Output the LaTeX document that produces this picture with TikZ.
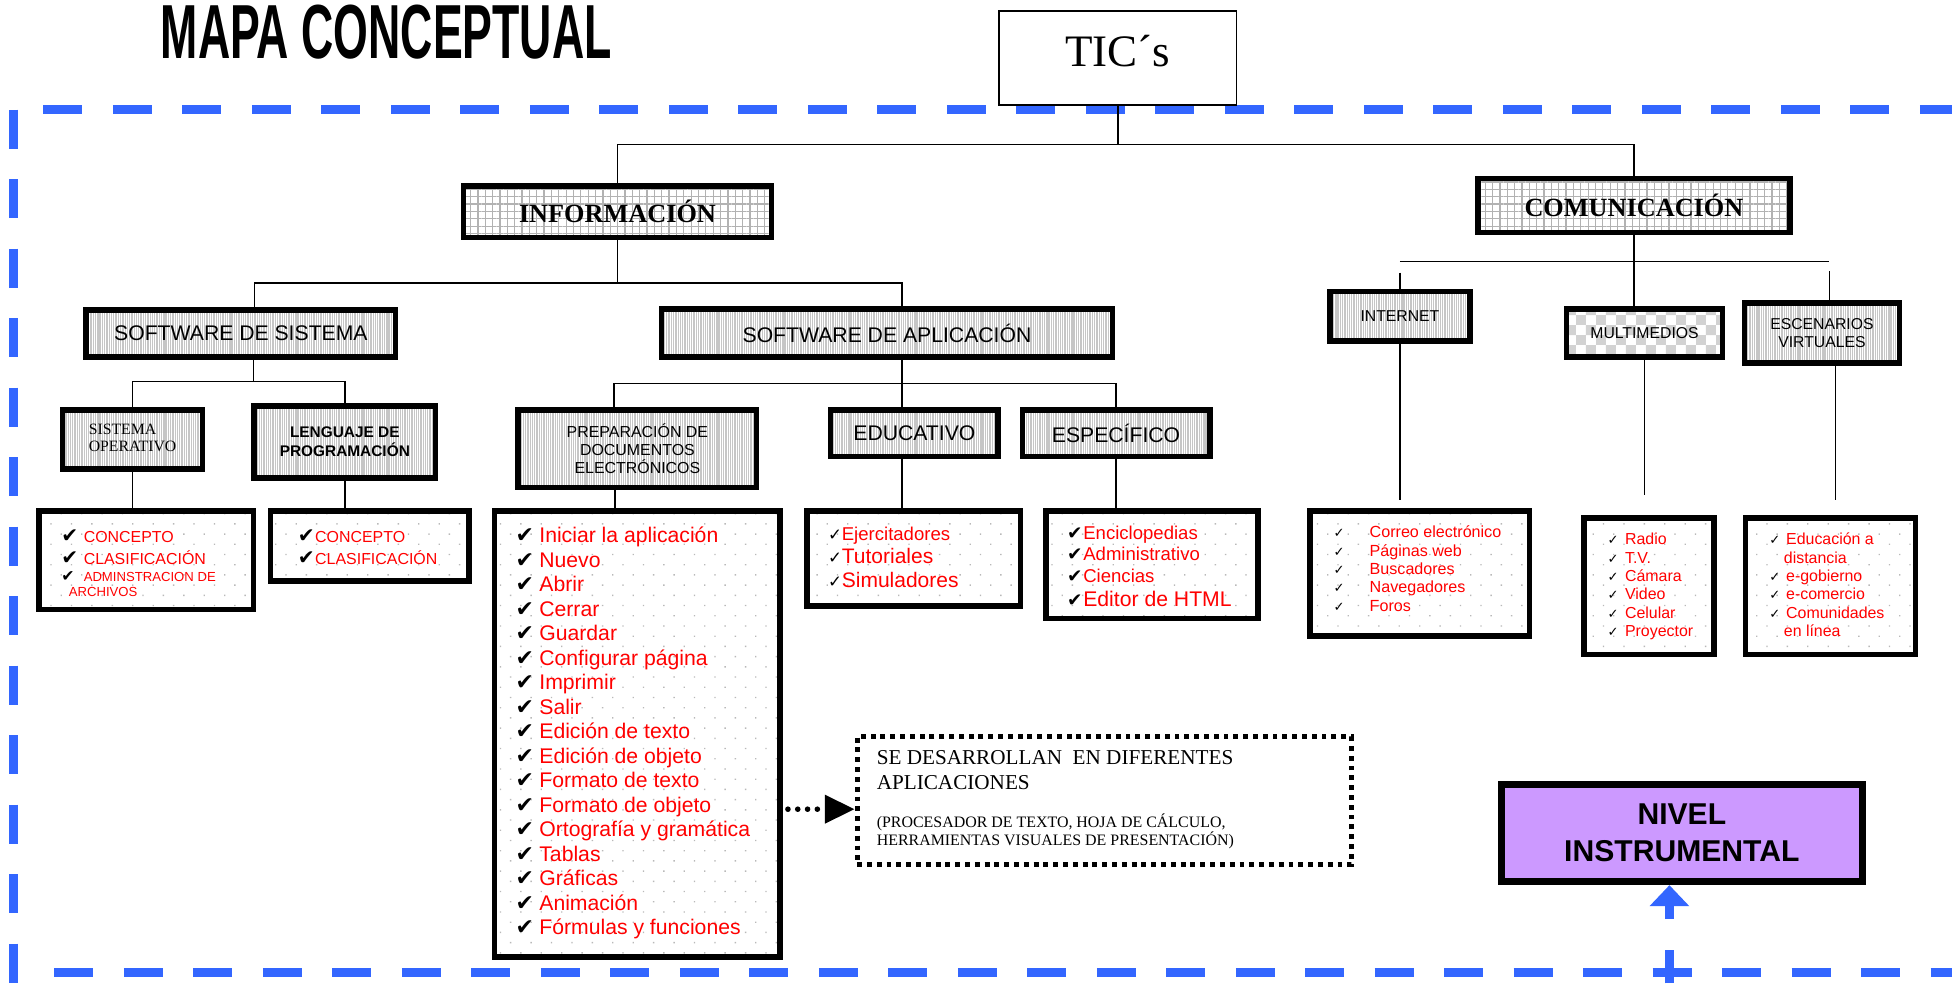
\documentclass[tikz,border=0pt]{standalone}
\usepackage{graphicx}
\usepackage{fontspec}
\setmainfont{Liberation Sans}
\newfontfamily\timesfont{Liberation Serif}
\newfontfamily\symfont{DejaVu Sans}
\usetikzlibrary{calc,patterns,patterns.meta,arrows.meta}

\definecolor{frameblue}{RGB}{51,102,255}
\definecolor{nivelfill}{RGB}{204,153,255}

\pgfdeclarepatternformonly{checkers}{\pgfqpoint{0pt}{0pt}}{\pgfqpoint{11.4pt}{11.4pt}}{\pgfqpoint{11.4pt}{11.4pt}}{%
  \pgfpathrectangle{\pgfqpoint{0pt}{0pt}}{\pgfqpoint{5.7pt}{5.7pt}}%
  \pgfpathrectangle{\pgfqpoint{5.7pt}{5.7pt}}{\pgfqpoint{5.7pt}{5.7pt}}%
  \pgfusepath{fill}}

\newcommand\fsz[2]{\fontsize{#1}{#2}\selectfont}
\newcommand\chkb[1]{{\fontsize{#1}{#1}\symfont ✔}}
\newcommand\chkl[1]{{\fontsize{#1}{#1}\symfont ✓}}
\newcommand\itm[3]{\makebox[#1][l]{#2}\textcolor{red}{#3}}

\tikzset{
  corners/.style n args={4}{at={({(#1+#3)/2},{(#2+#4)/2})},
    minimum width={(#3-#1-4.5)*0.025cm}, minimum height={(#4-#2-4.5)*0.025cm}},
  conn/.style={line width=0.9pt},
  thickbox/.style={draw, line width=3.2pt, inner sep=0pt},
  vlines/.style={thickbox, pattern={Lines[angle=90,distance=1.3pt,line width=0.75pt]}, pattern color=gray!45},
  gridfill/.style={thickbox, pattern={Hatch[angle=0,distance=4.2pt,line width=0.7pt]}, pattern color=gray!60},
  checkfill/.style={thickbox, pattern=checkers, pattern color=gray!35},
  dotfill/.style={thickbox, pattern={Dots[angle=45,distance=0.29cm,radius=0.55pt]}, pattern color=gray!55},
  itemlist/.style={anchor=base west, inner sep=0pt, align=left},
  dashframe/.style={draw=frameblue, line width=5.3pt, dash pattern=on 22.3pt off 17.4pt},
}

\begin{document}
\begin{tikzpicture}[x=0.025cm,y=-0.025cm]
\useasboundingbox (0,0) rectangle (1568,790);

%%%%% MARCO %%%%%
\draw[dashframe] (11,88) -- (11,790);
\draw[dashframe] (34.8,88) -- (1568,88);
\draw[dashframe] (43.6,781) -- (1568,781);

\node[anchor=base west, inner sep=0pt] (titulo) at (129,47) {\resizebox{9.05cm}{1.075cm}{\bfseries MAPA CONCEPTUAL}};

%%%%% CAJAS %%%%%
\node[draw, line width=0.9pt, fill=white, corners={800.4}{6.4}{995.6}{86.6}, inner sep=0pt, text depth=0.3cm, font=\timesfont\fsz{25.7pt}{26pt}] (tic) {TIC´s};

\node[gridfill, corners={370}{147}{622}{193}, font=\timesfont\bfseries\fsz{15pt}{17pt}] (info) {INFORMACIÓN};
\node[gridfill, corners={1185}{141}{1440}{189}, font=\timesfont\bfseries\fsz{15pt}{17pt}] (com) {COMUNICACIÓN};

\node[vlines, corners={67}{247}{320}{289}, font=\fsz{12.1pt}{14pt}] (sws) {SOFTWARE DE SISTEMA};
\node[vlines, corners={529}{246}{896}{289}, font=\fsz{12.1pt}{14pt}] (swa) {SOFTWARE DE APLICACIÓN};

\node[vlines, corners={48}{327}{165}{379}, font=\timesfont\fsz{9pt}{10pt}] (so) {\begin{tabular}{@{}l@{}}SISTEMA\\OPERATIVO\end{tabular}};
\node[vlines, corners={202}{324}{352}{386}, align=center, font=\bfseries\fsz{8.8pt}{10.7pt}] (lang) {LENGUAJE DE\\PROGRAMACIÓN};
\node[vlines, corners={414}{327}{610}{394}, align=center, font=\fsz{9.1pt}{10.3pt}] (prep) {PREPARACIÓN DE\\DOCUMENTOS\\ELECTRÓNICOS};
\node[vlines, corners={665}{327}{804}{369}, font=\fsz{12.1pt}{14pt}] (edu) {EDUCATIVO};
\node[vlines, corners={819}{327}{974}{369}, font=\fsz{12.1pt}{14pt}] (esp) {ESPECÍFICO};

\node[vlines, corners={1066}{232}{1183}{276}, font=\fsz{9pt}{10pt}] (int) {INTERNET};
\node[checkfill, corners={1256}{246}{1386}{289}, font=\fsz{9pt}{10pt}] (mm) {MULTIMEDIOS};
\node[vlines, corners={1399}{241}{1528}{294}, align=center, font=\fsz{9pt}{10pt}] (esc) {ESCENARIOS\\VIRTUALES};

%%%%% LISTAS %%%%%
\node[dotfill, corners={29}{408}{206}{492}] (lista) {};
\node[dotfill, corners={215}{408}{379}{469}] (listb) {};
\node[dotfill, corners={395}{408}{629}{771}] (preplist) {};
\node[dotfill, corners={646}{408}{822}{489}] (edulist) {};
\node[dotfill, corners={838}{408}{1013}{499}] (esplist) {};
\node[dotfill, corners={1050}{408}{1231}{513}] (intlist) {};
\node[dotfill, corners={1270}{414}{1379}{528}] (mmlist) {};
\node[dotfill, corners={1400}{414}{1541}{528}] (esclist) {};

\node[itemlist, font=\fsz{9.1pt}{12.8pt}] (listatxt) at (49,478.8) {%
  \itm{12.8pt}{\chkb{11.5pt}}{CONCEPTO}\\
  \itm{12.8pt}{\chkb{11.5pt}}{CLASIFICACIÓN}\\[-3.4pt]
  {\fsz{7.5pt}{12.8pt}\itm{12.8pt}{\chkb{9pt}}{ADMINSTRACION DE}}\\[-4.3pt]
  {\fsz{7.5pt}{12.8pt}\hspace*{4.3pt}\textcolor{red}{ARCHIVOS}}};
\node[itemlist, font=\fsz{9.1pt}{12.8pt}] (listbtxt) at (239,453.6) {%
  \itm{9.9pt}{\chkb{11.5pt}}{CONCEPTO}\\
  \itm{9.9pt}{\chkb{11.5pt}}{CLASIFICACIÓN}};

\node[itemlist, font=\fsz{12.1pt}{14pt}] (preptxt) at (414,751) {%
  \itm{13.5pt}{\chkb{12.5pt}}{Iniciar la aplicación}\\
  \itm{13.5pt}{\chkb{12.5pt}}{Nuevo}\\
  \itm{13.5pt}{\chkb{12.5pt}}{Abrir}\\
  \itm{13.5pt}{\chkb{12.5pt}}{Cerrar}\\
  \itm{13.5pt}{\chkb{12.5pt}}{Guardar}\\
  \itm{13.5pt}{\chkb{12.5pt}}{Configurar página}\\
  \itm{13.5pt}{\chkb{12.5pt}}{Imprimir}\\
  \itm{13.5pt}{\chkb{12.5pt}}{Salir}\\
  \itm{13.5pt}{\chkb{12.5pt}}{Edición de texto}\\
  \itm{13.5pt}{\chkb{12.5pt}}{Edición de objeto}\\
  \itm{13.5pt}{\chkb{12.5pt}}{Formato de texto}\\
  \itm{13.5pt}{\chkb{12.5pt}}{Formato de objeto}\\
  \itm{13.5pt}{\chkb{12.5pt}}{Ortografía y gramática}\\
  \itm{13.5pt}{\chkb{12.5pt}}{Tablas}\\
  \itm{13.5pt}{\chkb{12.5pt}}{Gráficas}\\
  \itm{13.5pt}{\chkb{12.5pt}}{Animación}\\
  \itm{13.5pt}{\chkb{12.5pt}}{Fórmulas y funciones}};

\node[itemlist, font=\fsz{12pt}{13.5pt}] (edutxt) at (665,472) {%
  {\fsz{10.6pt}{13.5pt}\itm{7.8pt}{\chkl{9.5pt}}{Ejercitadores}}\\
  \itm{7.8pt}{\chkl{9.5pt}}{Tutoriales}\\
  \itm{7.8pt}{\chkl{9.5pt}}{Simuladores}};

\node[itemlist, font=\fsz{10.6pt}{12.4pt}] (esptxt) at (857,487.4) {%
  \itm{9.2pt}{\chkb{10.5pt}}{Enciclopedias}\\
  \itm{9.2pt}{\chkb{10.5pt}}{Administrativo}\\
  \itm{9.2pt}{\chkb{10.5pt}}{Ciencias}\\[1.5pt]
  {\fsz{12.1pt}{12.4pt}\itm{9.2pt}{\chkb{10.5pt}}{Editor de HTML}}};

\node[itemlist, font=\fsz{9.2pt}{10.5pt}] (inttxt) at (1071,491) {%
  \itm{20.6pt}{\chkl{7.5pt}}{Correo electrónico}\\
  \itm{20.6pt}{\chkl{7.5pt}}{Páginas web}\\
  \itm{20.6pt}{\chkl{7.5pt}}{Buscadores}\\
  \itm{20.6pt}{\chkl{7.5pt}}{Navegadores}\\
  \itm{20.6pt}{\chkl{7.5pt}}{Foros}};

\node[itemlist, font=\fsz{9.1pt}{10.5pt}] (mmtxt) at (1291,511.3) {%
  \itm{10pt}{\chkl{7.5pt}}{Radio}\\
  \itm{10pt}{\chkl{7.5pt}}{T.V.}\\
  \itm{10pt}{\chkl{7.5pt}}{Cámara}\\
  \itm{10pt}{\chkl{7.5pt}}{Video}\\
  \itm{10pt}{\chkl{7.5pt}}{Celular}\\
  \itm{10pt}{\chkl{7.5pt}}{Proyector}};

\node[itemlist, font=\fsz{9.1pt}{10.5pt}] (esctxt) at (1421,511.3) {%
  \itm{9.6pt}{\chkl{7.5pt}}{Educación a}\\
  \hspace*{8.3pt}\textcolor{red}{distancia}\\
  \itm{9.6pt}{\chkl{7.5pt}}{e-gobierno}\\
  \itm{9.6pt}{\chkl{7.5pt}}{e-comercio}\\
  \itm{9.6pt}{\chkl{7.5pt}}{Comunidades}\\
  \hspace*{8.3pt}\textcolor{red}{en línea}};

%%%%% APLICACIONES %%%%%
\node[draw, line width=2.8pt, dash pattern=on 2.8pt off 2.8pt, corners={686.3}{589.3}{1087.7}{696.7}, inner sep=0pt] (devbox) {};
\node[itemlist, font=\timesfont\fsz{12.1pt}{14.2pt}] (devtxt) at (704,679.4) {%
  SE DESARROLLAN\ \ EN DIFERENTES\\
  APLICACIONES\\[7.1pt]
  {\fsz{9.1pt}{14.2pt}(PROCESADOR DE TEXTO, HOJA DE CÁLCULO,}\\[-3.5pt]
  {\fsz{9.1pt}{14.2pt}HERRAMIENTAS VISUALES DE PRESENTACIÓN)}};

\node[draw, line width=4.3pt, fill=nivelfill, corners={1203.75}{627.75}{1498.25}{710.25}, inner sep=0pt, align=center, font=\bfseries\fsz{17.2pt}{21.3pt}] (nivel) {NIVEL\\INSTRUMENTAL};

%%%%% CONECTORES %%%%%
\draw[conn] (tic.south) -- ++(0,31) coordinate (ticbar);
\draw[conn] (info.north) |- (ticbar -| com.north) -- (com.north);

\draw[conn] (info.south) -- ++(0,36) coordinate (infobar);
\draw[conn] ([xshift=0.275cm]sws.north) |- (infobar) -| ([xshift=0.3cm]swa.north);

\draw[conn] ([xshift=0.25cm]sws.south) -- ++(0,19) coordinate (swsbar);
\draw[conn] (so.north) |- (swsbar) -| (lang.north);
\draw[conn] (so.south) -- (so.south |- lista.north);
\draw[conn] (lang.south) -- (lang.south |- listb.north);

\draw[conn] ([xshift=0.3cm]swa.south) -- ++(0,19) coordinate (swabar);
\draw[conn] ([xshift=-0.475cm]prep.north) |- (swabar) -| (esp.north);
\draw[conn] (swabar) -- (swabar |- edu.north);
\draw[conn] ([xshift=-0.45cm]prep.south) coordinate (prepstem) -- (prepstem |- preplist.north);
\draw[conn] (swabar |- edu.south) -- (swabar |- edulist.north);
\draw[conn] (esp.south) -- (esp.south |- esplist.north);

\draw[conn] (com.south) -- ++(0,21) coordinate (combar);
\coordinate (escx) at ([xshift=0.15cm]esc.north);
\draw[conn] (combar) -- (combar |- mm.north);
\draw[conn] (combar -| int.north) -- (combar -| escx);
\draw[conn] ([yshift=-0.225cm]combar -| int.north) -- (int.north);
\draw[conn] ([yshift=-0.2cm]combar -| escx) -- (escx);
\coordinate (escy) at ([xshift=0.275cm]esc.south);
\draw[conn] (int.south) -- ([yshift=0.15cm]int.south |- intlist.north);
\draw[conn] (mm.south) -- ([yshift=0.4cm]mm.south |- mmlist.north);
\draw[conn] (escy) -- ([yshift=0.3cm]escy |- esclist.north);

\coordinate (flecha) at ([yshift=-0.175cm]devbox.west);
\draw[line width=3.2pt, line cap=round, dash pattern=on 0pt off 5.6pt, shorten <=2.8pt,
  -{Triangle[length=17pt,width=15.6pt]}] (preplist.east |- flecha) -- (flecha);

\coordinate (pie) at (1341,790);
\draw[frameblue, line width=5.1pt, dash pattern=on 22.3pt off 17.4pt, dash phase=3pt,
  -{Triangle[length=12pt,width=22pt]}] (pie) -- (pie |- nivel.south);
\end{tikzpicture}
\end{document}
